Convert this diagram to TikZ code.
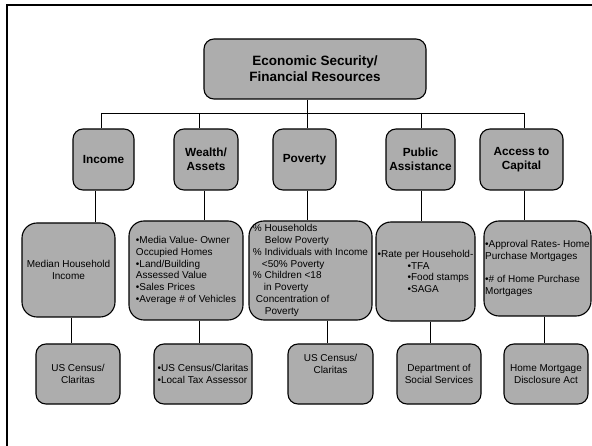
\documentclass[tikz,border=0pt]{standalone}
\usepackage{fontspec}
\setmainfont{Liberation Sans}
\definecolor{boxgray}{RGB}{173,173,173}
\begin{document}
\begin{tikzpicture}[x=1pt,y=-1pt,
  box/.style={draw=black, line width=1.1pt, fill=boxgray, rounded corners=#1, inner sep=0pt, align=center},
  box/.default=10pt,
  topfont/.style={font=\fontsize{13.5}{16}\selectfont\bfseries},
  midfont/.style={font=\fontsize{11.8}{14}\selectfont\bfseries},
  smallfont/.style={font=\fontsize{10}{11.8}\selectfont},
  conn/.style={line width=0.9pt, draw=black}]
\useasboundingbox (0,0) rectangle (592,446);
% frame
\draw[line width=2pt] (7,446) -- (7,5.5) -- (592,5.5);

% top
\node[box, topfont, minimum width=222pt, minimum height=60pt] (top) at (315,69) {Economic Security/\\Financial Resources};

% level 2
\node[box, midfont, minimum width=61pt, minimum height=61pt] (inc) at (103.5,159.5) {Income};
\node[box, midfont, minimum width=64pt, minimum height=61pt] (wea) at (206,159.5) {Wealth/\\Assets};
\node[box, midfont, minimum width=63pt, minimum height=61pt] (pov) at (304.5,159.5) {Poverty};
\node[box, midfont, minimum width=69pt, minimum height=61pt] (pub) at (420.5,159.5) {Public\\Assistance};
\node[box, midfont, minimum width=83pt, minimum height=61pt] (acc) at (521.5,159.5) {Access to\\Capital};

% level 3
\node[box=15pt, smallfont, minimum width=93pt, minimum height=94pt] (d1) at (68.5,270) {Median Household\\Income};
\node[box=15pt, smallfont, align=left, minimum width=114pt, minimum height=99pt] (d2) at (186,270.5)
  {•Media Value- Owner\\Occupied Homes\\•Land/Building\\Assessed Value\\•Sales Prices\\•Average \# of Vehicles};
\node[box=15pt, smallfont, align=left, minimum width=123pt, minimum height=99pt] (d3) at (310.5,270.5)
  {\% Households\\\hspace*{12pt}Below Poverty\\\% Individuals with Income\\\hspace*{9pt}<50\% Poverty\\\% Children <18\\\hspace*{11pt}in Poverty\\\hspace*{3pt}Concentration of\\\hspace*{12pt}Poverty};
\node[box=15pt, smallfont, align=left, minimum width=99pt, minimum height=99pt] (d4) at (425.5,271.5)
  {•Rate per Household-\\\hspace*{30pt}•TFA\\\hspace*{30pt}•Food stamps\\\hspace*{30pt}•SAGA};
\node[box=15pt, smallfont, align=left, minimum width=107pt, minimum height=95pt] (d5) at (537.5,268.5)
  {•Approval Rates- Home\\Purchase Mortgages\\[11.8pt]•\# of Home Purchase\\Mortgages};

% level 4
\node[box, smallfont, minimum width=84pt, minimum height=60pt] (s1) at (78,374) {US Census/\\Claritas};
\node[box, smallfont, align=left, minimum width=98pt, minimum height=60pt] (s2) at (203,374) {•US Census/Claritas\\•Local Tax Assessor};
\node[box, smallfont, minimum width=85pt, minimum height=60pt] (s3) at (330.5,374) {US Census/\\Claritas\\[8pt]};
\node[box, smallfont, minimum width=84pt, minimum height=60pt] (s4) at (439,374) {Department of\\Social Services};
\node[box, smallfont, minimum width=84pt, minimum height=60pt] (s5) at (546,374) {Home Mortgage\\Disclosure Act};

% connector x positions
\coordinate (tv) at (307,113);
\coordinate (busL) at (101,113);
\coordinate (busR) at (524,113);
\foreach \i/\x in {1/101,2/199,3/307,4/421,5/524}{\coordinate (a\i) at (\x,113);}
\foreach \i/\x in {1/95,2/204,3/307,4/421,5/524}{\coordinate (b\i) at (\x,0);}
\foreach \i/\x in {1/71,2/199,3/327,4/430,5/544}{\coordinate (c\i) at (\x,0);}

% connectors
\draw[conn] (top.south -| tv) -- (tv);
\draw[conn] (busL) -- (busR);
\foreach \i/\n in {1/inc,2/wea,3/pov,4/pub,5/acc}{\draw[conn] (a\i) -- (\n.north -| a\i);}
\draw[conn] (inc.south -| b1) -- (d1.north -| b1);
\draw[conn] (wea.south -| b2) -- (d2.north -| b2);
\draw[conn] (pov.south -| b3) -- (d3.north -| b3);
\draw[conn] (pub.south -| b4) -- (d4.north -| b4);
\draw[conn] (acc.south -| b5) -- (d5.north -| b5);
\draw[conn] (d1.south -| c1) -- (s1.north -| c1);
\draw[conn] (d2.south -| c2) -- (s2.north -| c2);
\draw[conn] (d3.south -| c3) -- (s3.north -| c3);
\draw[conn] (d4.south -| c4) -- (s4.north -| c4);
\draw[conn] (d5.south -| c5) -- (s5.north -| c5);
\end{tikzpicture}
\end{document}
